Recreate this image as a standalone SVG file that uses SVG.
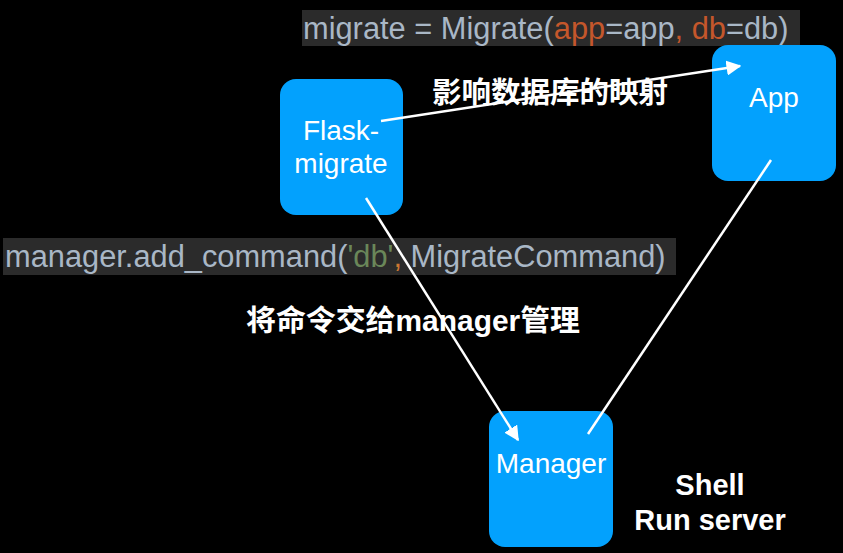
<svg xmlns="http://www.w3.org/2000/svg" width="843" height="553" viewBox="0 0 843 553">
<defs>
<style>
.node{fill:#03a1fd}
.nt{font-family:"Liberation Sans",Arial,sans-serif;font-size:28px;fill:#fff;text-anchor:middle}
.code{font-family:"Liberation Sans",Arial,sans-serif;font-size:30.8px;fill:#a9b7c6;white-space:pre}
.cbg{fill:#2b2b2b}
.lbl{font-family:"Liberation Sans","Noto Sans CJK SC",sans-serif;font-size:29px;font-weight:bold;fill:#fff}
.edge{stroke:#fff;stroke-width:2.5;fill:none}
</style>
<marker id="ah" viewBox="0 0 10 10" refX="9" refY="5" markerWidth="6" markerHeight="6" orient="auto" markerUnits="strokeWidth">
<path d="M0,0 L10,5 L0,10 z" fill="#fff"/>
</marker>
</defs>
<rect width="843" height="553" fill="#000"/>
<g id="code1">
<rect class="cbg" x="302" y="10" width="498" height="36"/>
<text class="code" x="303" y="39">migrate = Migrate(<tspan fill="#c4572b">app</tspan>=app<tspan fill="#c4572b">, db</tspan>=db)</text>
</g>
<g id="code2">
<rect class="cbg" x="3" y="238" width="673" height="37"/>
<text class="code" x="5" y="267">manager.add_command(<tspan fill="#6a8759">'db'</tspan><tspan fill="#cc7832">,&#160;</tspan>MigrateCommand)</text>
</g>
<g id="flask-migrate">
<rect class="node" x="280" y="79" width="123" height="136" rx="16"/>
<text class="nt" x="341" y="140">Flask-</text>
<text class="nt" x="341" y="173">migrate</text>
</g>
<g id="app">
<rect class="node" x="712" y="45" width="124" height="136" rx="16"/>
<text class="nt" x="774" y="107">App</text>
</g>
<g id="manager">
<rect class="node" x="489" y="411" width="124" height="136" rx="16"/>
<text class="nt" x="551" y="473">Manager</text>
</g>
<g id="edges">
<line class="edge" x1="381" y1="121" x2="740" y2="66" marker-end="url(#ah)"/>
<line class="edge" x1="366" y1="198" x2="518" y2="440" marker-end="url(#ah)"/>
<line class="edge" x1="771" y1="160" x2="588" y2="434"/>
</g>
<g id="labels">
<text class="lbl" x="432" y="103" textLength="236" lengthAdjust="spacingAndGlyphs">影响数据库的映射</text>
<text class="lbl" x="246" y="331" textLength="334" lengthAdjust="spacingAndGlyphs">将命令交给manager管理</text>
<text class="lbl" x="710" y="495" text-anchor="middle">Shell</text>
<text class="lbl" x="710" y="530" text-anchor="middle">Run server</text>
</g>
</svg>
